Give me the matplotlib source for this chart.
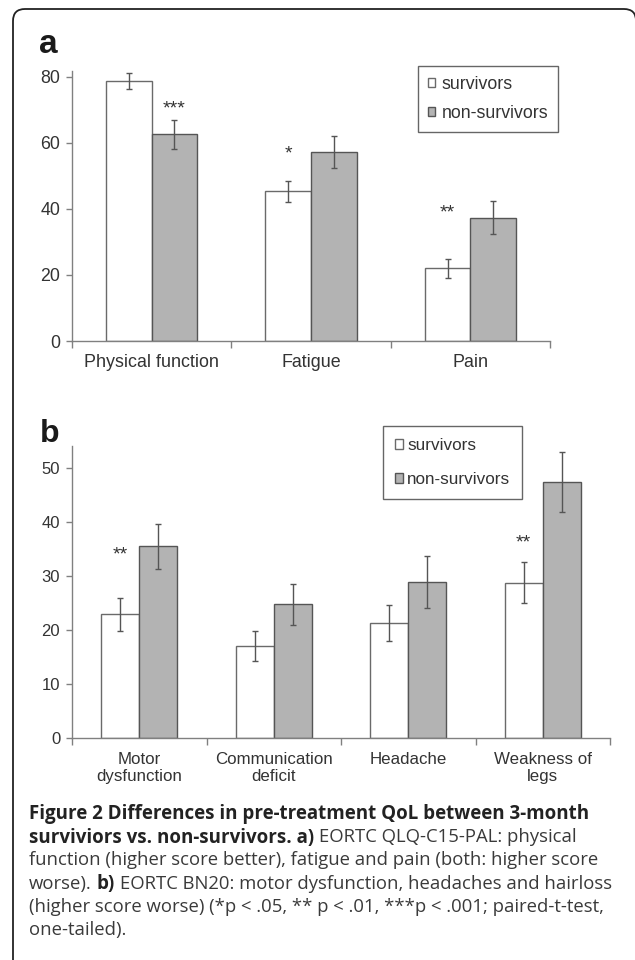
import matplotlib
matplotlib.use("Agg")
import matplotlib.pyplot as plt
from matplotlib.patches import PathPatch
from matplotlib.path import Path
import numpy as np

# ---------------- data ----------------
cats_a = ["Physical function", "Fatigue", "Pain"]
surv_a = [78.8, 45.3, 22.0]
surv_a_err = [2.5, 3.3, 2.9]
non_a = [62.6, 57.3, 37.3]
non_a_err = [4.3, 4.9, 5.0]
sig_a = ["***", "*", "**"]
sig_a_bar = [1, 0, 0]          # 0 = survivors bar, 1 = non-survivors bar
sig_a_y = [72.0, 58.2, 40.6]

cats_b = ["Motor\ndysfunction", "Communication\ndeficit", "Headache", "Weakness of\nlegs"]
surv_b = [22.9, 17.0, 21.3, 28.8]
surv_b_err = [3.1, 2.8, 3.3, 3.8]
non_b = [35.5, 24.8, 28.9, 47.4]
non_b_err = [4.1, 3.8, 4.8, 5.5]
sig_b = ["**", "", "", "**"]
sig_b_bar = [0, 0, 0, 0]
sig_b_y = [35.0, 0, 0, 37.2]

yticks_a = [0, 20, 40, 60, 80]
yticks_b = [0, 10, 20, 30, 40, 50]
series = ["survivors", "non-survivors"]

caption_lines = [
    [("Figure 2 Differences in pre-treatment QoL between 3-month", "bold")],
    [("surviviors vs. non-survivors. a)", "bold"), ("EORTC QLQ-C15-PAL: physical", "normal")],
    [("function (higher score better), fatigue and pain (both: higher score", "normal")],
    [("worse).", "normal"), ("b)", "bold"), ("EORTC BN20: motor dysfunction, headaches and hairloss", "normal")],
    [("(higher score worse) (*p < .05, ** p < .01, ***p < .001; paired-t-test,", "normal")],
    [("one-tailed).", "normal")],
]

# ---------------- style ----------------
W, H = 635, 960
DPI = 100
CHART_FONT = ["Liberation Sans", "DejaVu Sans"]
CAP_FONT = ["Open Sans", "DejaVu Sans"]
TXT = "#333333"
AXC = "#808080"
SURV_FC, SURV_EC = "#ffffff", "#6a6a6a"
NON_FC, NON_EC = "#b3b3b3", "#555555"
ERRC = "#555555"

plt.rcParams["font.family"] = CHART_FONT

fig = plt.figure(figsize=(W / DPI, H / DPI), dpi=DPI)


def fig_rect(x0, y_top, x1, y_bot):
    return [x0 / W, 1 - y_bot / H, (x1 - x0) / W, (y_bot - y_top) / H]


# overlay for frame (left edge, top edge and the two rounded top corners)
ov = fig.add_axes([0, 0, 1, 1])
ov.set_xlim(0, W)
ov.set_ylim(H, 0)
ov.axis("off")
L, T, R, RAD = 13, 9, 636, 12
verts = [(L, H + 5), (L, T + RAD), (L, T), (L + RAD, T), (R - RAD, T), (R, T), (R, T + RAD),
         (R, T + 30)]
codes = [Path.MOVETO, Path.LINETO, Path.CURVE3, Path.CURVE3, Path.LINETO, Path.CURVE3,
         Path.CURVE3, Path.LINETO]
ov.add_patch(PathPatch(Path(verts, codes), fc="none", ec="#222222", lw=1.3))


def panel(rect, cats, surv, surv_err, non, non_err, ylim, yticks, width, fs_tick, fs_cat,
          sig, sig_bar, sig_y, leg_anchor, leg_fs, leg_pad, leg_spacing, leg_handle, leg_htp,
          catpad):
    ax = fig.add_axes(rect)
    ax.set_zorder(2)
    x = np.arange(len(cats))
    b1 = ax.bar(x - width / 2, surv, width, color=SURV_FC, edgecolor=SURV_EC, lw=1.0,
                label=series[0], zorder=2)
    b2 = ax.bar(x + width / 2, non, width, color=NON_FC, edgecolor=NON_EC, lw=1.0,
                label=series[1], zorder=2)
    ax.errorbar(x - width / 2, surv, yerr=surv_err, fmt="none", ecolor=ERRC, elinewidth=1.0,
                capsize=2.3, capthick=1.0, zorder=3)
    ax.errorbar(x + width / 2, non, yerr=non_err, fmt="none", ecolor=ERRC, elinewidth=1.0,
                capsize=2.3, capthick=1.0, zorder=3)
    for i, s in enumerate(sig):
        if s:
            xs = x[i] + (width / 2 if sig_bar[i] else -width / 2)
            ax.annotate(s, (xs, sig_y[i]), xytext=(0, -4), textcoords="offset points",
                        ha="center", va="center", fontsize=14, color=TXT)
    ax.set_xlim(-0.5, len(cats) - 0.5)
    ax.set_ylim(*ylim)
    ax.set_yticks(yticks)
    ax.set_xticks(x)
    ax.set_xticklabels(cats, fontsize=fs_cat, color=TXT, linespacing=1.17)
    ax.set_xticks(np.arange(len(cats) + 1) - 0.5, minor=True)
    ax.tick_params(axis="x", which="major", length=0, pad=catpad)
    ax.tick_params(axis="x", which="minor", length=5, width=1.0, color=AXC, direction="out")
    ax.tick_params(axis="y", length=4.5, width=1.0, color=AXC, labelsize=fs_tick,
                   labelcolor=TXT, pad=4)
    for sp in ["top", "right"]:
        ax.spines[sp].set_visible(False)
    for sp in ["left", "bottom"]:
        ax.spines[sp].set_color(AXC)
        ax.spines[sp].set_linewidth(1.0)
    leg = ax.legend(handles=[b1, b2], loc="upper left", bbox_to_anchor=leg_anchor,
                    bbox_transform=fig.transFigure, borderaxespad=0, fontsize=leg_fs,
                    frameon=True, fancybox=False, edgecolor="#666666", framealpha=1,
                    borderpad=leg_pad, labelspacing=leg_spacing, handlelength=leg_handle,
                    handleheight=leg_handle, handletextpad=leg_htp, labelcolor=TXT)
    leg.get_frame().set_linewidth(1.0)
    return ax


axa = panel(fig_rect(72, 71, 550, 341), cats_a, surv_a, surv_a_err, non_a, non_a_err,
            (0, 81.8), yticks_a, 0.286, 12.8, 12.9, sig_a, sig_a_bar, sig_a_y,
            (418 / W, 1 - 66 / H), 12.8, 0.55, 0.68, 0.42, 0.35, 9.6)
axb = panel(fig_rect(72, 446, 610, 738), cats_b, surv_b, surv_b_err, non_b, non_b_err,
            (0, 54.1), yticks_b, 0.283, 12.0, 12.2, sig_b, sig_b_bar, sig_b_y,
            (383 / W, 1 - 426 / H), 12.3, 0.7, 1.12, 0.47, 0.25, 10.3)

# panel letters
fig.text(39 / W, 1 - 53 / H, "a", fontsize=24, fontweight="bold", color="#1a1a1a",
         ha="left", va="baseline")
fig.text(40 / W, 1 - 442 / H, "b", fontsize=23, fontweight="bold", color="#1a1a1a",
         ha="left", va="baseline")

# ---------------- caption ----------------
renderer = fig.canvas.get_renderer()


def text_w(s, size, weight):
    t = fig.text(0, 0, s, fontsize=size, fontweight=weight, family=CAP_FONT)
    w = t.get_window_extent(renderer).width
    t.remove()
    return w


def line_width(segs, size, bold_size):
    tot = 0
    for i, (s, wgt) in enumerate(segs):
        sz = bold_size if wgt == "bold" else size
        tot += text_w(s, sz, wgt)
        if i < len(segs) - 1:
            tot += text_w("x x", sz, wgt) - text_w("xx", sz, wgt)
    return tot


reg_size = 10.0 * 569 / line_width(caption_lines[2], 10.0, 10.0)
bold_size = 10.0 * 563 / line_width(caption_lines[0], 10.0, 10.0)

cap_x0 = 29
cap_y0 = 812
cap_dy = 23.2
for li, segs in enumerate(caption_lines):
    xx = cap_x0
    yy = cap_y0 + li * cap_dy
    for i, (s, wgt) in enumerate(segs):
        sz = bold_size if wgt == "bold" else reg_size
        col = "#222222" if wgt == "bold" else "#3a3a3a"
        t = fig.text(xx / W, 1 - yy / H, s, fontsize=sz, fontweight=wgt, family=CAP_FONT,
                     color=col, ha="left", va="center_baseline")
        xx += t.get_window_extent(renderer).width
        if i < len(segs) - 1:
            xx += text_w("x x", sz, wgt) - text_w("xx", sz, wgt)

fig.savefig("out.png", dpi=DPI)
